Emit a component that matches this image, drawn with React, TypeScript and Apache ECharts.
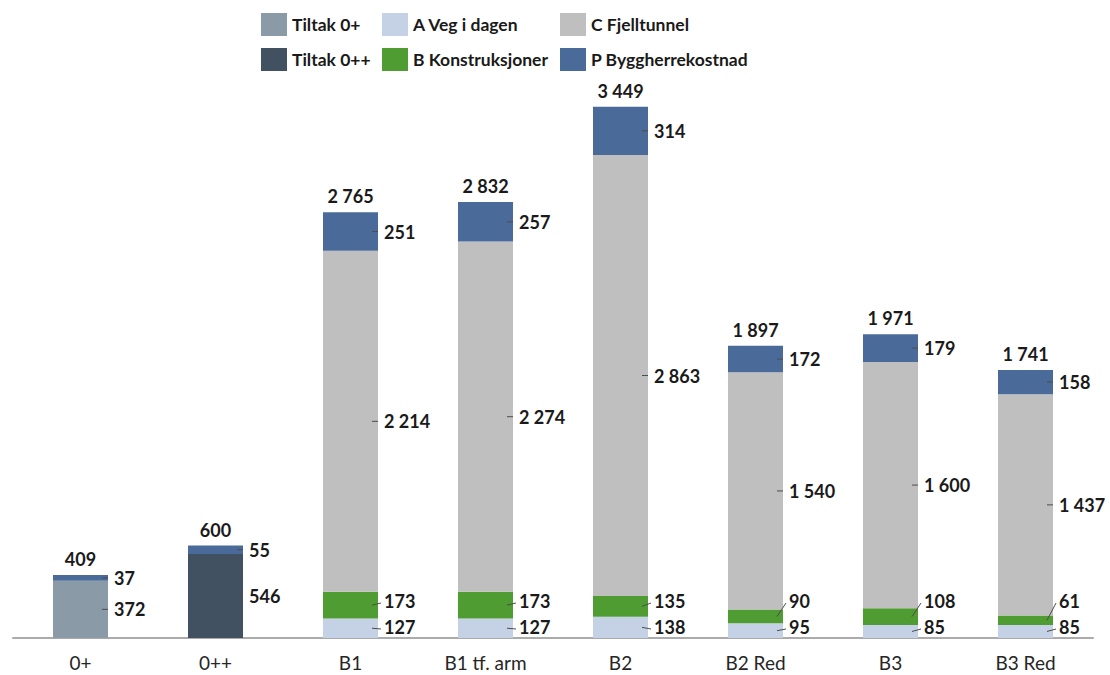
import React, { useEffect, useRef } from "react";
import * as echarts from "echarts";

// Investment cost per alternative (MNOK), stacked by cost post
const categories = ["0+", "0++", "B1", "B1 tf. arm", "B2", "B2 Red", "B3", "B3 Red"];
const tiltak0p = [372, null, null, null, null, null, null, null];
const tiltak0pp = [null, 546, null, null, null, null, null, null];
const vegIDagen = [null, null, 127, 127, 138, 95, 85, 85];
const konstruksjoner = [null, null, 173, 173, 135, 90, 108, 61];
const fjelltunnel = [null, null, 2214, 2274, 2863, 1540, 1600, 1437];
const byggherre = [37, 55, 251, 257, 314, 172, 179, 158];
const totals = [409, 600, 2765, 2832, 3449, 1897, 1971, 1741];

const FONT = 'Lato, "Noto Sans", sans-serif';
const BAR_W = 55;
const TEXT_COLOR = "#1a1a1a";

const stackSeries = [
  { key: "t0p", name: "Tiltak 0+", color: "#8B9AA7", values: tiltak0p },
  { key: "t0pp", name: "Tiltak 0++", color: "#415161", values: tiltak0pp },
  { key: "A", name: "A Veg i dagen", color: "#C5D2E5", values: vegIDagen },
  { key: "B", name: "B Konstruksjoner", color: "#4F9C32", values: konstruksjoner },
  { key: "C", name: "C Fjelltunnel", color: "#BFBFBF", values: fjelltunnel },
  { key: "P", name: "P Byggherrekostnad", color: "#4A6A9A", values: byggherre },
];

const fmt = (n: number) => String(n).replace(/\B(?=(\d{3})+(?!\d))/g, " ");

function labelText(x: number, y: number, text: string, align: string) {
  return {
    type: "text",
    x,
    y,
    style: {
      text,
      fill: TEXT_COLOR,
      font: `bold 18px ${FONT}`,
      align,
      textAlign: align,
      verticalAlign: "middle",
      textVerticalAlign: "middle",
    },
  };
}

function renderLabels(params: any, api: any) {
  const i = api.value(0) as number;
  const base = api.coord([i, 0]);
  const cx = base[0];
  const baseY = base[1];
  const right = cx + BAR_W / 2;
  const children: any[] = [];
  let cum = 0;
  let labelYA = baseY;
  stackSeries.forEach((s) => {
    const v = s.values[i];
    if (v == null) return;
    const yBottom = api.coord([i, cum])[1];
    cum += v;
    const yTop = api.coord([i, cum])[1];
    const mid = (yBottom + yTop) / 2;
    let ly = mid;
    if (s.key === "A") {
      ly = Math.min(mid, baseY - 11);
      labelYA = ly;
    } else if (s.key === "B") {
      ly = Math.min(mid, labelYA - 26);
    }
    children.push({
      type: "line",
      shape: { x1: right - 6, y1: mid, x2: right + (ly === mid ? 0 : 3), y2: ly === mid ? mid : ly + 2 },
      style: { stroke: "#4d4d4d", lineWidth: 1 },
    });
    children.push(labelText(right + 6, ly, fmt(v), "left"));
  });
  const topY = api.coord([i, totals[i]])[1];
  children.push(labelText(cx, topY - 16, fmt(totals[i]), "center"));
  return { type: "group", children };
}

const legendColumns = [
  { left: 261, names: ["Tiltak 0+", "Tiltak 0++"] },
  { left: 382, names: ["A Veg i dagen", "B Konstruksjoner"] },
  { left: 560, names: ["C Fjelltunnel", "P Byggherrekostnad"] },
];

export default function App() {
  const ref = useRef<HTMLDivElement>(null);

  useEffect(() => {
    if (!ref.current) return;
    const chart = echarts.init(ref.current, undefined, { renderer: "svg" });
    chart.setOption({
      animation: false,
      backgroundColor: "#ffffff",
      legend: legendColumns.map((col) => ({
        orient: "vertical",
        left: col.left,
        top: 13,
        padding: 0,
        itemWidth: 26,
        itemHeight: 23,
        itemGap: 12,
        icon: "rect",
        selectedMode: false,
        data: col.names,
        textStyle: { fontFamily: FONT, fontWeight: "bold", fontSize: 17.5, color: TEXT_COLOR },
      })),
      grid: { left: 13, right: 17, top: 22, bottom: 37 },
      xAxis: {
        type: "category",
        data: categories,
        axisLine: { lineStyle: { color: "#ababab", width: 2 } },
        axisTick: { show: false },
        axisLabel: { fontFamily: FONT, fontSize: 19, color: "#262626", margin: 15 },
      },
      yAxis: {
        type: "value",
        min: 0,
        max: 4000,
        show: false,
        splitLine: { show: false },
      },
      series: [
        ...stackSeries.map((s) => ({
          type: "bar",
          name: s.name,
          stack: "total",
          barWidth: BAR_W,
          itemStyle: { color: s.color },
          data: s.values.map((v) => (v == null ? "-" : v)),
        })),
        {
          type: "custom",
          name: "labels",
          data: categories.map((_, i) => [i, totals[i]]),
          encode: { x: 0, y: 1 },
          renderItem: renderLabels,
          silent: true,
          z: 10,
        },
      ],
    });
    return () => chart.dispose();
  }, []);

  return (
    <div
      ref={ref}
      style={{ position: "fixed", left: 0, top: 0, width: 1110, height: 675, background: "#fff" }}
    />
  );
}
